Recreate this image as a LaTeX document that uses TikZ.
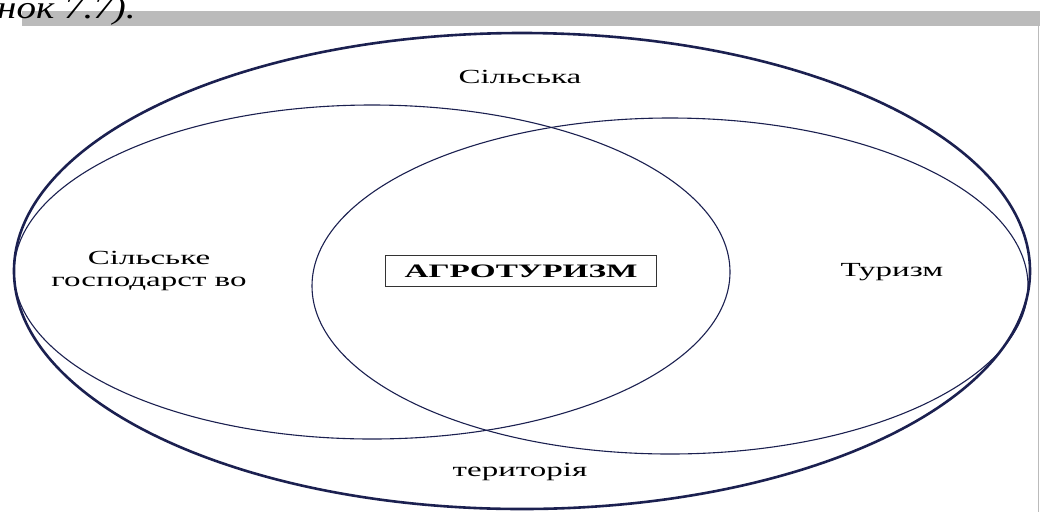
\documentclass[tikz,border=0pt]{standalone}
\usepackage{fontspec}
\setmainfont{Liberation Serif}
\usepackage{tikz}
\usetikzlibrary{positioning}
\definecolor{navy}{HTML}{1B2050}
\definecolor{bargray}{HTML}{BBBBBB}

\tikzset{
  ring/.style={draw=navy, line width=1.1pt},
  bigring/.style={draw=navy, line width=2.6pt},
  lbl/.style={font=\fontsize{20}{22}\selectfont, xscale=1.65, transform shape, align=center, inner sep=0pt},
  mainbox/.style={draw=black!80, line width=1.4pt, font=\bfseries\fontsize{19}{21}\selectfont, xscale=1.75, transform shape, minimum width=155pt, minimum height=31pt, inner sep=0pt}
}

\begin{document}
\begin{tikzpicture}[x=1pt, y=-1pt]
  \useasboundingbox (0,0) rectangle (1040,512);
  \clip (0,0) rectangle (1040,512);

  % page leftovers
  \fill[bargray] (22,11) rectangle (1040,26);
  \draw[bargray, line width=1pt] (1038,26) -- (1038,512);
  \node[anchor=base west, inner sep=0pt, font=\itshape\fontsize{32}{33}\selectfont, xscale=1.22, transform shape] (capt) at (-3,18) {нок 7.7).};

  % outer set
  \draw[bigring] (522,271) ellipse [x radius=508, y radius=238];

  % two inner sets
  \draw[ring] (372,272) ellipse [x radius=358, y radius=167];
  \draw[ring] (670,286) ellipse [x radius=358, y radius=168];

  % labels
  \node[lbl] (silska) at (520,77) {Сільська};
  \node[lbl] (gosp) at (149,271) {Сільське\\господарст во};
  \node[lbl] (turyzm) at (892,272) {Туризм};
  \node[lbl] (teryt) at (520,472) {територія};
  \node[mainbox] (agro) at (521,271) {АГРОТУРИЗМ};
\end{tikzpicture}
\end{document}
